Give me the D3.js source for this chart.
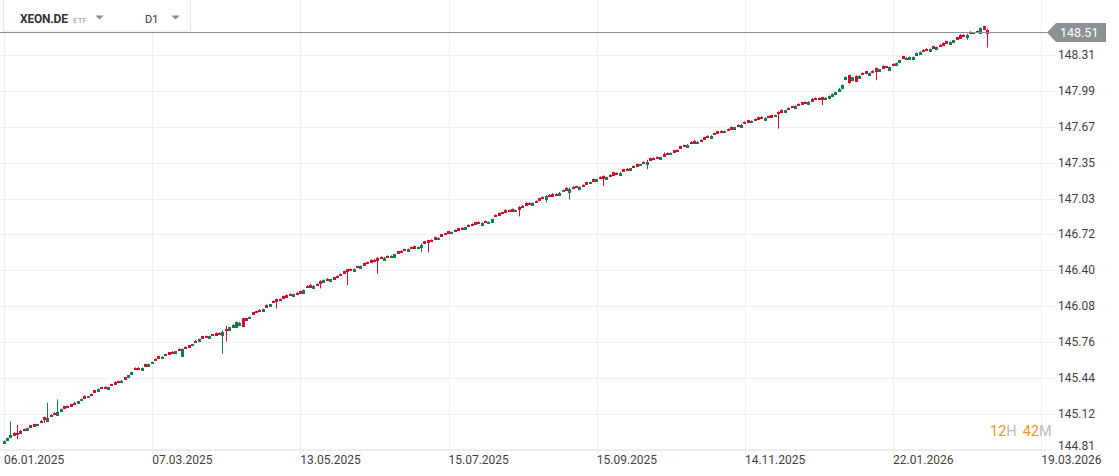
<!DOCTYPE html>
<html>
<head>
<meta charset="utf-8">
<script src="https://cdn.jsdelivr.net/npm/d3@7"></script>
<style>
  body { margin: 0; background: #fff; }
  svg { display: block; font-family: Roboto, "Open Sans", sans-serif; }
</style>
</head>
<body>
<svg width="1119" height="476"></svg>
<script>
// daily closes, one per trading day from 06.01.2025
var closes = [
  144.879, 144.905, 144.932, 144.938, 144.941, 144.958, 144.975, 144.994, 145.003, 145.012,
  145.030, 145.052, 145.074, 145.088, 145.101, 145.122, 145.140, 145.163, 145.172, 145.181,
  145.190, 145.212, 145.233, 145.252, 145.264, 145.277, 145.288, 145.315, 145.341, 145.347,
  145.352, 145.359, 145.374, 145.390, 145.403, 145.417, 145.430, 145.462, 145.490, 145.519,
  145.522, 145.528, 145.546, 145.563, 145.581, 145.600, 145.617, 145.628, 145.640, 145.652,
  145.664, 145.676, 145.688, 145.697, 145.705, 145.714, 145.738, 145.762, 145.786, 145.795,
  145.803, 145.812, 145.818, 145.824, 145.830, 145.848, 145.866, 145.889, 145.913, 145.937,
  145.932, 145.895, 145.955, 145.982, 146.008, 146.022, 146.037, 146.052, 146.073, 146.094,
  146.114, 146.123, 146.132, 146.147, 146.162, 146.177, 146.183, 146.189, 146.194, 146.221,
  146.248, 146.254, 146.260, 146.266, 146.288, 146.310, 146.313, 146.316, 146.319, 146.337,
  146.354, 146.372, 146.390, 146.399, 146.408, 146.421, 146.434, 146.446, 146.458, 146.470,
  146.482, 146.494, 146.506, 146.510, 146.514, 146.526, 146.538, 146.550, 146.562, 146.574,
  146.586, 146.592, 146.597, 146.603, 146.621, 146.639, 146.648, 146.657, 146.672, 146.686,
  146.701, 146.714, 146.728, 146.737, 146.745, 146.754, 146.766, 146.778, 146.790, 146.799,
  146.808, 146.817, 146.820, 146.823, 146.826, 146.852, 146.879, 146.891, 146.902, 146.914,
  146.920, 146.926, 146.932, 146.947, 146.962, 146.977, 146.986, 146.994, 147.003, 147.021,
  147.039, 147.057, 147.060, 147.063, 147.066, 147.088, 147.110, 147.116, 147.122, 147.128,
  147.134, 147.140, 147.146, 147.163, 147.181, 147.193, 147.205, 147.217, 147.221, 147.226,
  147.235, 147.243, 147.252, 147.265, 147.279, 147.291, 147.302, 147.314, 147.326, 147.338,
  147.350, 147.363, 147.377, 147.386, 147.394, 147.403, 147.416, 147.430, 147.439, 147.448,
  147.457, 147.483, 147.498, 147.513, 147.528, 147.534, 147.540, 147.546, 147.563, 147.581,
  147.593, 147.605, 147.617, 147.626, 147.634, 147.643, 147.655, 147.667, 147.679, 147.692,
  147.706, 147.715, 147.723, 147.732, 147.741, 147.750, 147.753, 147.756, 147.759, 147.776,
  147.794, 147.806, 147.818, 147.830, 147.843, 147.857, 147.866, 147.874, 147.883, 147.895,
  147.907, 147.919, 147.919, 147.919, 147.932, 147.946, 147.963, 147.981, 148.012, 148.043,
  148.114, 148.070, 148.110, 148.085, 148.127, 148.141, 148.145, 148.150, 148.159, 148.168,
  148.181, 148.194, 148.198, 148.203, 148.221, 148.239, 148.261, 148.283, 148.287, 148.292,
  148.292, 148.328, 148.337, 148.346, 148.354, 148.363, 148.372, 148.381, 148.390, 148.403,
  148.417, 148.426, 148.439, 148.452, 148.465, 148.479, 148.488, 148.506, 148.510, 148.514,
  148.550, 148.535, 148.510
];

// open minus close, in cents (positive = down candle)
var bodies = [
  -2, -1.5, -2, 1.5, 1, 1.5, 1, -2, 1.5, 1.5,
  -1, 1, 1.5, -2.5, 1, 1, -3, -1.5, 1.5, 1,
  1.5, 1, -1.5, -1, 1.5, -1, 1, 1.5, -2, 1,
  1, -1.5, 1, 1.5, 1, -1, 1.5, -1.5, -2, 1,
  1, -1.5, 1.5, -2, -1, 1, 1.5, -1, 1, 1.5,
  1, -2, 1, -6, 1, 1.5, -1, 1, -2, 1.5,
  1, -1.5, 1, 1.5, 1, -3, 1, -2.5, -2, -4.5,
  -1.5, 7.5, 1.5, -1, 1.5, 1, 1, -1.5, 1.5, -1.5,
  1, 1.5, 1, 2, 1.5, 1, -1.5, 1, 1.5, -3,
  1, 1.5, -1.5, 1, 1.5, -1.5, 1, -2, 1.5, 1,
  1, 1.5, 1.5, 1, -2, 1, -1.5, 1.5, 1, 2,
  1, 1.5, 1, -1.5, 1, -1, -2.5, 1.5, 1, 1,
  -1.5, 1, 1.5, -1, -2, 1.5, 1.5, 1, 2, -1,
  1.5, 1, 1.5, -1, 1, 1.5, 1, -1.5, 1, 1,
  1.5, 1, -2, 1, -1, -2.5, 1, 1.5, 1, 2,
  1, 1.5, -1, 1.5, 1, 2, 1, -2, 1, 1.5,
  1, -3, 1, 1.5, 1, -1.5, -1, 1.5, -2.5, 1,
  1, -1.5, 1, 1.5, -1, 1.5, -2, 1, 1.5, -1.5,
  1, 2.5, 1, -1.5, 1.5, 1, -2, 1, 1.5, -1,
  1, -2, 1.5, 1, 1, -1.5, 1.5, 1, -1, 1.5,
  1, 1.5, 1, -1.5, 1, 1.5, -1, 1, 1.5, 1,
  -1.5, 1, 1.5, 1, -1, 1, 1.5, -1.5, 1, -1.5,
  1, 1.5, -1, 1, 1.5, 1, -1.5, 1, 1.5, -1,
  1, 1.5, -1.5, 1, 1, -2, 1, 1.5, 1, -2,
  1.5, 1, 1, 1.5, -1, -2, -1.5, -1.5, -2, -2.5,
  -1.5, 6, -3, 4, -1.5, 1, 2, -1.5, 1, 2.5,
  -1.5, 2, 1, -2.5, 1, -1.5, -2, 1.5, -1, -2,
  -1.5, -2, -1.5, 1, 1, -2, 1.5, -2, 1, 1.5,
  1.5, -1.5, -2, 1.5, 2.5, 1, -1.5, 1, -1, 1,
  -4, 3, 2.5
];

// visible shadows: [candle, high, low]
var wicks = [
  [2, 145.05, 144.915], [4, 145.02, 144.90], [12, 145.09, 145.045],
  [13, 145.215, 145.07], [16, 145.245, 145.12], [65, 145.86, 145.66],
  [66, 145.90, 145.77], [81, 146.13, 146.06], [94, 146.30, 146.24],
  [102, 146.40, 146.27], [111, 146.51, 146.37], [124, 146.63, 146.56],
  [126, 146.66, 146.56], [153, 146.96, 146.88], [161, 147.06, 147.00],
  [168, 147.13, 147.03], [178, 147.235, 147.15], [191, 147.375, 147.30],
  [196, 147.44, 147.41], [230, 147.80, 147.66], [243, 147.925, 147.87],
  [251, 148.13, 148.06], [259, 148.195, 148.09], [286, 148.495, 148.45],
  [292, 148.54, 148.38]
];

var yTicks = [148.31, 147.99, 147.67, 147.35, 147.03, 146.72, 146.40, 146.08, 145.76, 145.44, 145.12, 144.81];
var xTickIndex = [0, 44, 88, 132, 176, 220, 264, 308];
var xTickLabels = ["06.01.2025", "07.03.2025", "13.05.2025", "15.07.2025", "15.09.2025", "14.11.2025", "22.01.2026", "19.03.2026"];
var lastPrice = 148.51;
var symbol = "XEON.DE", assetType = "ETF", period = "D1";
var countdown = [["12", "H"], ["42", "M"]];

var svg = d3.select("svg");
var green = "#157c4d", red = "#c9142f";

var x = d3.scaleLinear().domain([0, 308]).range([4, 1041.3]);
var y = d3.scaleLinear().domain([144.80, 148.603]).range([450, 22]);

// grid
svg.append("g").selectAll("line").data(yTicks).join("line")
    .attr("x1", 0).attr("x2", 1055)
    .attr("y1", d => Math.round(y(d)) + 0.5).attr("y2", d => Math.round(y(d)) + 0.5)
    .attr("stroke", "#f0f0f0");

svg.append("g").selectAll("line").data(xTickIndex).join("line")
    .attr("x1", d => Math.round(x(d)) + 0.5).attr("x2", d => Math.round(x(d)) + 0.5)
    .attr("y1", 0).attr("y2", 455)
    .attr("stroke", "#efefef");

svg.append("line")
    .attr("x1", 0).attr("x2", 1046).attr("y1", 450.5).attr("y2", 450.5)
    .attr("stroke", "#ebebeb");

// axis labels
svg.append("g").selectAll("text").data(yTicks).join("text")
    .attr("x", 1058)
    .attr("y", d => Math.min(y(d), 446))
    .attr("dy", "0.35em")
    .attr("font-size", 12)
    .attr("fill", "#3f3f3f")
    .text(d => d.toFixed(2));

svg.append("g").selectAll("text").data(xTickIndex).join("text")
    .attr("x", d => x(d))
    .attr("y", 460)
    .attr("dy", "0.35em")
    .attr("font-size", 12)
    .attr("fill", "#3f3f3f")
    .text((d, i) => xTickLabels[i]);

// candles
var candles = closes.map(function(c, i) {
  var o = c + bodies[i] / 100;
  return {i: i, open: o, close: c, high: Math.max(o, c), low: Math.min(o, c)};
});
wicks.forEach(function(w) {
  candles[w[0]].high = Math.max(candles[w[0]].high, w[1]);
  candles[w[0]].low = Math.min(candles[w[0]].low, w[2]);
});

function col(d) { return d.close >= d.open ? green : red; }

var cg = svg.append("g");
cg.selectAll("line").data(candles).join("line")
    .attr("x1", d => Math.round(x(d.i) - 1.5) + 1.5)
    .attr("x2", d => Math.round(x(d.i) - 1.5) + 1.5)
    .attr("y1", d => y(d.high) - 0.5)
    .attr("y2", d => y(d.low) + 0.5)
    .attr("stroke", col);

cg.selectAll("rect").data(candles).join("rect")
    .attr("x", d => Math.round(x(d.i) - 1.5) + 0.5)
    .attr("width", 2)
    .attr("y", d => Math.round(y(Math.max(d.open, d.close))) + 0.5)
    .attr("height", d => Math.max(1, Math.round(Math.abs(y(d.open) - y(d.close)))))
    .attr("fill", col)
    .attr("stroke", col);

// last price line + tag
var py = Math.round(y(lastPrice)) + 0.5;
svg.append("line")
    .attr("x1", 0).attr("x2", 1050).attr("y1", py).attr("y2", py)
    .attr("stroke", "#8b9296");
svg.append("path")
    .attr("d", "M1047," + py + "L1056," + (py - 9.5) + "H1106V" + (py + 9.5) + "H1056Z")
    .attr("fill", "#8b9296");
svg.append("text")
    .attr("x", 1060).attr("y", py).attr("dy", "0.35em")
    .attr("font-size", 12.5).attr("fill", "#fff")
    .text(lastPrice.toFixed(2));

// header box
var head = svg.append("g");
head.append("rect")
    .attr("x", 3.5).attr("y", -1).attr("width", 187).attr("height", 32)
    .attr("fill", "#fff").attr("stroke", "#e8e8e8");
head.append("text")
    .attr("x", 20).attr("y", 23)
    .attr("font-size", 12).attr("font-weight", "bold").attr("fill", "#333")
    .attr("letter-spacing", "-0.2")
    .text(symbol);
head.append("text")
    .attr("x", 73).attr("y", 23)
    .attr("font-size", 8).attr("fill", "#9a9a9a")
    .text(assetType);
head.append("text")
    .attr("x", 145).attr("y", 23)
    .attr("font-size", 11).attr("fill", "#333")
    .text(period);
[99.5, 175.5].forEach(function(cx) {
  head.append("path")
      .attr("d", "M" + (cx - 4) + ",15.5H" + (cx + 4) + "L" + cx + ",19.5Z")
      .attr("fill", "#8a8a8a");
});

// market countdown
var cd = svg.append("text")
    .attr("x", 990).attr("y", 431).attr("dy", "0.35em")
    .attr("font-size", 14.5);
countdown.forEach(function(p, k) {
  cd.append("tspan").attr("fill", "#f7941d").attr("dx", k ? 6 : 0).text(p[0]);
  cd.append("tspan").attr("fill", "#bdbdbd").text(p[1]);
});
</script>
</body>
</html>
